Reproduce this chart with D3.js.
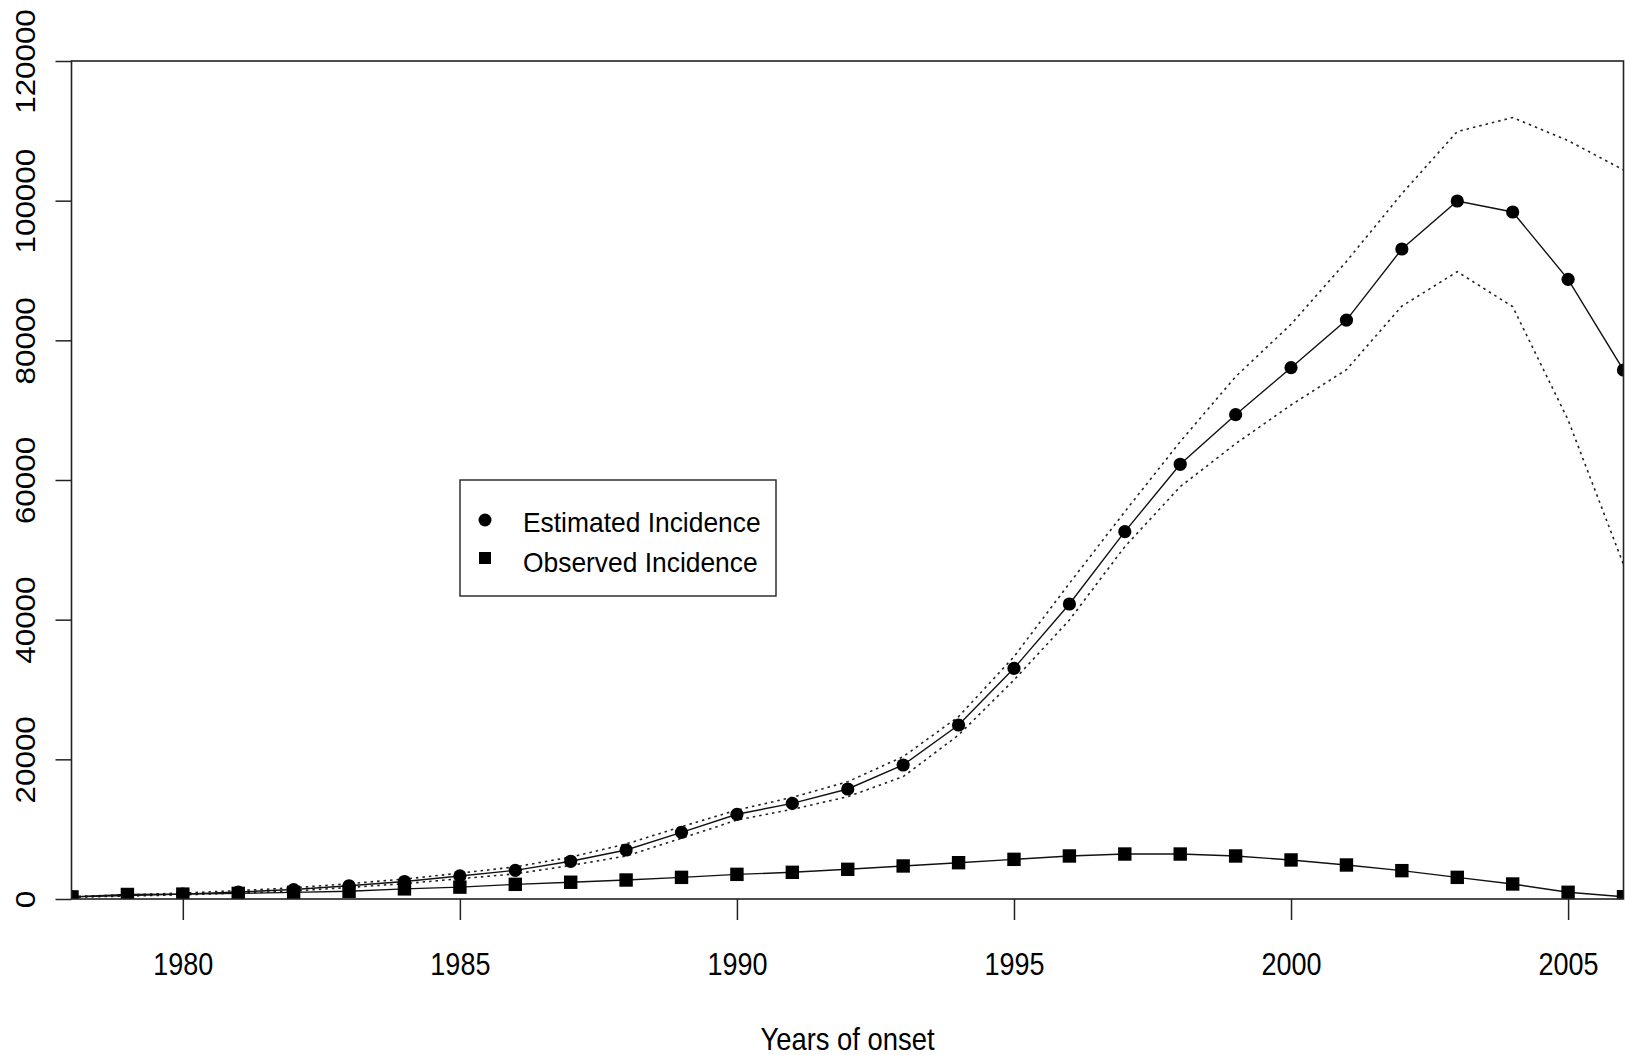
<!DOCTYPE html>
<html>
<head>
<meta charset="utf-8">
<script src="https://cdn.jsdelivr.net/npm/d3@7/dist/d3.min.js"></script>
<style>
  html, body { margin: 0; padding: 0; background: #fff; }
  svg { display: block; }
  text { font-family: "Liberation Sans", Arial, sans-serif; fill: #000; }
</style>
</head>
<body>
<svg id="chart" width="1625" height="1055"></svg>
<script>
const years = [1978,1979,1980,1981,1982,1983,1984,1985,1986,1987,1988,1989,1990,1991,1992,1993,1994,1995,1996,1997,1998,1999,2000,2001,2002,2003,2004,2005,2006];
const estimated = [300,500,700,1000,1350,1900,2500,3300,4100,5400,7020,9550,12130,13700,15750,19190,24920,33030,42240,52600,62250,69350,76080,82900,93080,99950,98380,88740,75750];
const upperBound = [350,600,850,1200,1600,2200,2850,3700,4600,6000,7880,10350,12740,14560,16800,20380,26110,34700,45200,55460,65490,74800,82300,91300,101000,109900,111900,108600,104400];
const lowerBound = [250,420,600,850,1150,1650,2200,2900,3600,4800,6160,8690,11310,12840,14650,17520,23480,31360,39950,50450,59040,65200,70740,75800,84900,89830,84820,68600,47900];
const observed = [300,650,700,800,950,1100,1450,1700,2100,2400,2720,3100,3530,3820,4250,4730,5200,5680,6160,6440,6440,6160,5590,4870,4060,3100,2150,960,330];
const xTicks = [1980,1985,1990,1995,2000,2005];
const yTicks = [0,20000,40000,60000,80000,100000,120000];
const legendLabels = ["Estimated Incidence","Observed Incidence"];
const xTitle = "Years of onset";

const svg = d3.select("#chart");
const L = 71.5, R = 1623.5, T = 61, B = 899;

const x = d3.scaleLinear().domain([1978, 2006]).range([72, 1623.5]);
const y = d3.scaleLinear().domain([0, 120000]).range([B, T]);

svg.append("defs").append("clipPath").attr("id","plotclip")
  .append("rect").attr("x", L).attr("y", T).attr("width", R - L).attr("height", B - T);

const plot = svg.append("g").attr("clip-path","url(#plotclip)");

const line = (arr) => d3.line().x((d,i) => x(years[i])).y(d => y(d))(arr);

// dotted bounds
[upperBound, lowerBound].forEach(arr => {
  plot.append("path").attr("d", line(arr))
    .attr("fill","none").attr("stroke","#222").attr("stroke-width",1.6)
    .attr("stroke-dasharray","2.5,4");
});
// solid lines
[estimated, observed].forEach(arr => {
  plot.append("path").attr("d", line(arr))
    .attr("fill","none").attr("stroke","#111").attr("stroke-width",1.4);
});
// markers
plot.selectAll("circle.est").data(estimated).join("circle")
  .attr("class","est")
  .attr("cx",(d,i)=>x(years[i])).attr("cy",d=>y(d)).attr("r",6.6).attr("fill","#000");
plot.selectAll("rect.obs").data(observed).join("rect")
  .attr("class","obs")
  .attr("x",(d,i)=>x(years[i]) - 6.7).attr("y",d=>y(d) - 6.7)
  .attr("width",13.4).attr("height",13.4).attr("fill","#000");

// box
svg.append("rect").attr("x",L).attr("y",T).attr("width",R-L).attr("height",B-T)
  .attr("fill","none").attr("stroke","#222").attr("stroke-width",1.6);

// x axis
const gx = svg.append("g").attr("transform",`translate(0,${B})`)
  .call(d3.axisBottom(x).tickValues(xTicks).tickSize(21).tickFormat(d3.format("d")));
gx.select(".domain").remove();
gx.selectAll(".tick line").attr("stroke","#222").attr("stroke-width",1.5);
gx.selectAll(".tick text")
  .attr("y",null).attr("dy",null)
  .attr("transform","translate(0,76) scale(1,1.17)")
  .attr("font-size",27).attr("fill","#000")
  .attr("font-family",'"Liberation Sans", Arial, sans-serif');

// y axis
const gy = svg.append("g").attr("transform",`translate(${L},0)`)
  .call(d3.axisLeft(y).tickValues(yTicks).tickSize(16).tickFormat(d3.format("d")));
gy.select(".domain").remove();
gy.selectAll(".tick line").attr("stroke","#222").attr("stroke-width",1.5);
gy.selectAll(".tick text")
  .attr("x",null).attr("dy",null)
  .attr("text-anchor","middle")
  .attr("transform",`translate(${35 - L},0) rotate(-90) scale(1.14,1)`)
  .attr("font-size",27.5).attr("fill","#000")
  .attr("font-family",'"Liberation Sans", Arial, sans-serif');

// x title
svg.append("text").attr("text-anchor","middle")
  .attr("transform",`translate(${(L+R)/2},1050) scale(1,1.12)`)
  .attr("font-size",27.4).text(xTitle);

// legend
const lg = svg.append("g");
lg.append("rect").attr("x",460).attr("y",480).attr("width",316).attr("height",116)
  .attr("fill","#fff").attr("stroke","#222").attr("stroke-width",1.4);
lg.append("circle").attr("cx",485).attr("cy",520).attr("r",6.5).attr("fill","#000");
lg.append("rect").attr("x",479).attr("y",552).attr("width",12).attr("height",12).attr("fill","#000");
legendLabels.forEach((t,i) => {
  lg.append("text").attr("transform",`translate(523,${532 + i*40}) scale(1,1.06)`)
    .attr("font-size",26.4).text(t);
});
</script>
</body>
</html>
